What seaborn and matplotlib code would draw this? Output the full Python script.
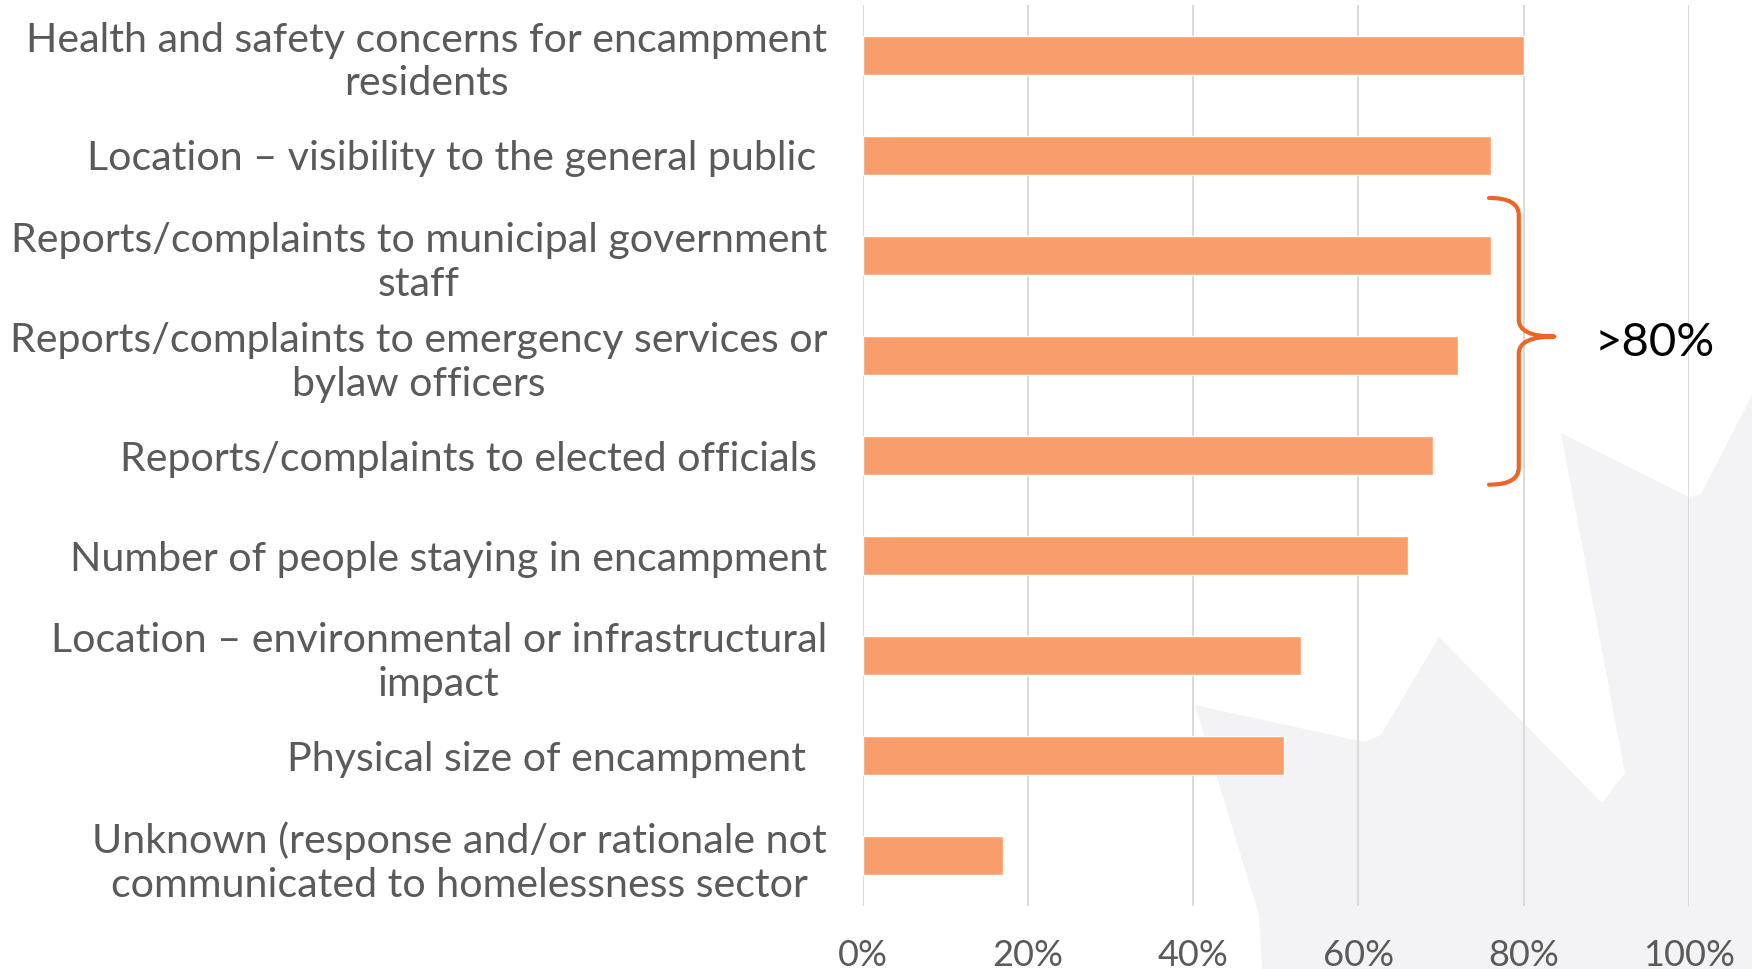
import matplotlib
matplotlib.use("Agg")
import matplotlib.pyplot as plt
import seaborn as sns
import pandas as pd
from matplotlib.patches import Polygon, PathPatch
from matplotlib.path import Path

# Reasons cited for the response to an encampment (share of respondents)
categories = [
    "Health and safety concerns for encampment\nresidents",
    "Location – visibility to the general public ",
    "Reports/complaints to municipal government\nstaff",
    "Reports/complaints to emergency services or\nbylaw officers",
    "Reports/complaints to elected officials ",
    "Number of people staying in encampment",
    "Location – environmental or infrastructural\nimpact",
    "Physical size of encampment  ",
    "Unknown (response and/or rationale not\ncommunicated to homelessness sector",
]
shares = [0.80, 0.76, 0.76, 0.72, 0.69, 0.66, 0.53, 0.51, 0.17]

x_ticks = [0.0, 0.2, 0.4, 0.6, 0.8, 1.0]
x_tick_labels = ["0%", "20%", "40%", "60%", "80%", "100%"]

bracket_label = ">80%"
bracket_first, bracket_last = 2, 4   # categories grouped by the brace

BAR_COLOR = "#f79e6c"
BRACE_COLOR = "#f06424"
TEXT_GRAY = "#5a5a5a"
FONT = ["Lato", "DejaVu Sans"]

sns.set_theme(style="white")
plt.rcParams["font.family"] = FONT

W, H = 1752, 969
fig = plt.figure(figsize=(W / 100, H / 100), dpi=100, facecolor="white")

# faint leaf-shaped backdrop in the lower right corner
leaf_px = [(1752, 395), (1701, 494), (1689, 497), (1561, 433), (1625, 773),
           (1602, 803), (1439, 637), (1381, 735), (1364, 742), (1195, 705),
           (1259, 915), (1262, 969), (1752, 969)]
leaf = Polygon([(x / W, 1 - y / H) for x, y in leaf_px], closed=True,
               transform=fig.transFigure, facecolor="#f3f3f5",
               edgecolor="none", zorder=-1)
fig.patches.append(leaf)

ax_top, ax_bottom = 5.3, 906.0
ax_left, ax_right = 862.6, 1689.0
ax = fig.add_axes([ax_left / W, 1 - ax_bottom / H,
                   (ax_right - ax_left) / W, (ax_bottom - ax_top) / H])
ax.set_facecolor("none")

df = pd.DataFrame({"reason": categories, "share": shares})
sns.barplot(data=df, x="share", y="reason", orient="h", color=BAR_COLOR,
            width=0.39, saturation=1, ax=ax, zorder=2)

ax.set_xlim(0, 1)
ax.set_ylim(len(categories) - 0.5, -0.5)
ax.set_xticks(x_ticks)
ax.set_xticklabels(x_tick_labels)
ax.set_xlabel("")
ax.set_ylabel("")
ax.xaxis.grid(True, color="#d9d9d9", linewidth=1.4)
ax.yaxis.grid(False)
ax.set_axisbelow(True)
for s in ax.spines.values():
    s.set_visible(False)

ax.tick_params(axis="y", length=0, pad=25.6, labelsize=29.6, labelcolor=TEXT_GRAY)
ax.tick_params(axis="x", length=0, pad=24, labelsize=26, labelcolor=TEXT_GRAY)
for lab in ax.get_yticklabels():
    lab.set_multialignment("center")
    lab.set_linespacing(1.22)

# curly brace grouping the complaint-driven reasons
y0 = bracket_first - 0.575
y1 = bracket_last + 0.29
ym = 2.81
xa, xb, xt = 0.758, 0.794, 0.837
r = 0.17
verts = [(xa, y0), (xb, y0), (xb, y0 + r),
         (xb, ym - r),
         (xb, ym), (xt, ym),
         (xb, ym), (xb, ym + r),
         (xb, y1 - r),
         (xb, y1), (xa, y1)]
codes = [Path.MOVETO, Path.CURVE3, Path.CURVE3,
         Path.LINETO,
         Path.CURVE3, Path.CURVE3,
         Path.CURVE3, Path.CURVE3,
         Path.LINETO,
         Path.CURVE3, Path.CURVE3]
ax.add_patch(PathPatch(Path(verts, codes), facecolor="none",
                       edgecolor=BRACE_COLOR, linewidth=3, capstyle="round",
                       joinstyle="round", clip_on=False, zorder=3))
ax.text(0.959, 2.87, bracket_label, ha="center", va="center", fontsize=34,
        color="black", clip_on=False)

fig.savefig("out.png", dpi=100, facecolor="white")
